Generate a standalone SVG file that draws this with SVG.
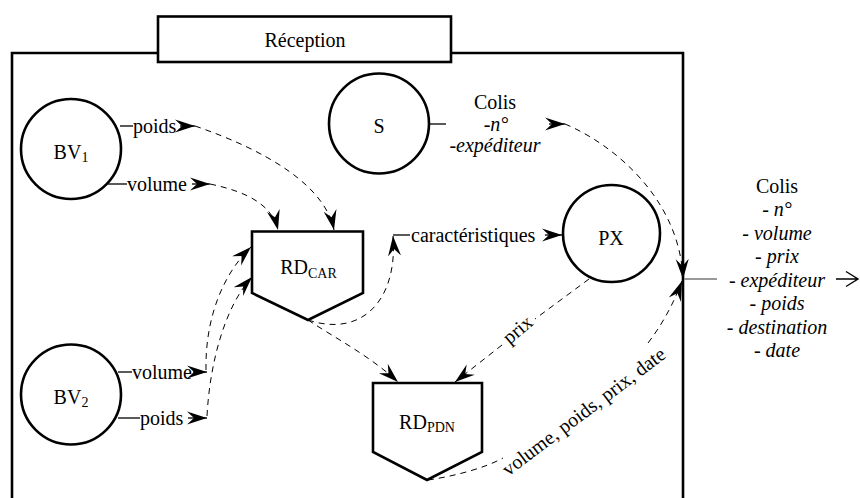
<svg xmlns="http://www.w3.org/2000/svg" width="860" height="498" viewBox="0 0 860 498" font-family="'Liberation Serif', 'Times New Roman', serif">
<style>
text{font-family:'Liberation Serif','Times New Roman',serif;font-size:20px;fill:#000}
.c{text-anchor:middle}
.i{font-style:italic}
.node{fill:#fff;stroke:#000;stroke-width:2.6}
.frame{fill:none;stroke:#000;stroke-width:2.6}
.dash{fill:none;stroke:#000;stroke-width:1;stroke-dasharray:6 5}
.ln{fill:none;stroke:#000;stroke-width:1.3}
.sub{font-size:14px}
</style>
<defs>
<marker id="ah" markerUnits="userSpaceOnUse" markerWidth="22" markerHeight="16" refX="20" refY="8" orient="auto" viewBox="0 0 22 16">
<path d="M20,8 L0,1.5 L7,8 L0,14.5 Z" fill="#000" stroke="none"/>
</marker>
</defs>

<g id="frame">
<path class="frame" d="M158,53 L12,53 L12,498 M451,53 L683,53 L683,498"/>
<rect class="frame" x="158" y="16.5" width="293" height="45.5" fill="#fff"/>
<text class="c" x="305" y="46.5">Réception</text>
</g>

<g id="BV1">
<circle class="node" cx="71" cy="149" r="50"/>
<text class="c" x="71" y="159">BV<tspan class="sub" dy="3">1</tspan></text>
</g>
<g id="S">
<circle class="node" cx="379" cy="123.5" r="50"/>
<text class="c" x="379" y="133">S</text>
</g>
<g id="PX">
<circle class="node" cx="611.5" cy="233.5" r="48.5"/>
<text class="c" x="611" y="245">PX</text>
</g>
<g id="BV2">
<circle class="node" cx="71" cy="394.5" r="50"/>
<text class="c" x="71" y="403.5">BV<tspan class="sub" dy="3">2</tspan></text>
</g>
<g id="RD_CAR">
<path class="node" stroke-width="3.2" d="M252,231.5 L363,231.5 L363,293 L308,320 L252,293 Z"/>
<text class="c" x="308.5" y="274">RD<tspan class="sub" dy="4">CAR</tspan></text>
</g>
<g id="RD_PDN">
<path class="node" stroke-width="3.2" d="M373,383 L482,383 L482,452 L427,480 L373,452 Z"/>
<text class="c" x="427" y="429">RD<tspan class="sub" dy="3">PDN</tspan></text>
</g>

<g id="connectors">
<path class="ln" d="M120,126 L133,126"/>
<text x="133" y="133">poids</text>
<path class="ln" d="M180,126 L195,126" marker-end="url(#ah)"/>
<path class="dash" d="M195,126 C265,150 325,185 334,230" marker-end="url(#ah)"/>
<path class="ln" d="M108,184 L127,184"/>
<text x="127" y="191">volume</text>
<path class="ln" d="M192,184 L210,184" marker-end="url(#ah)"/>
<path class="dash" d="M210,184 C248,192 272,205 278,230" marker-end="url(#ah)"/>
<path class="ln" d="M118,372 L132,372"/>
<text x="132" y="379">volume</text>
<path class="ln" d="M193,372 L207,372" marker-end="url(#ah)"/>
<path class="dash" d="M206,370 C205,320 222,275 251,247" marker-end="url(#ah)"/>
<path class="ln" d="M118,418 L140,418"/>
<text x="140" y="424.5">poids</text>
<path class="ln" d="M188,418 L207,418" marker-end="url(#ah)"/>
<path class="dash" d="M207,416 C210,360 226,305 252,277" marker-end="url(#ah)"/>
<path class="dash" d="M308,320 C362,338 398,300 393,236" marker-end="url(#ah)"/>
<path class="ln" d="M393,235 L410,235"/>
<text x="411" y="241.5">caractéristiques</text>
<path class="ln" d="M545,235 L562,235" marker-end="url(#ah)"/>
<path class="dash" d="M308,320 C335,338 370,356 398,382" marker-end="url(#ah)"/>
<path class="dash" d="M589,279 L535,319"/>
<text class="c" x="518" y="336" transform="rotate(-40 518 330)">prix</text>
<path class="dash" d="M502,345 L455,382" marker-end="url(#ah)"/>
<path class="dash" d="M428,480 C455,476 485,468 503,458"/>
<text class="c" x="584" y="418" transform="rotate(-37 584 412)">volume, poids, prix, date</text>
<path class="dash" d="M648,343 C664,322 674,302 682,281" marker-end="url(#ah)"/>
<path class="ln" d="M429,124 L446,124"/>
<text class="c" x="495" y="108.5">Colis</text>
<text class="c i" x="496" y="131">-n°</text>
<text class="c i" x="495" y="152">-expéditeur</text>
<path class="ln" d="M549,124 L565,124" marker-end="url(#ah)"/>
<path class="dash" d="M565,124 C615,145 680,200 683,279" marker-end="url(#ah)"/>
<path d="M684,279 L717,279" fill="none" stroke="#777" stroke-width="1.5"/>
<text class="c" x="777" y="192.5">Colis</text>
<text class="c i" x="777" y="216">- n°</text>
<text class="c i" x="777" y="239.5">- volume</text>
<text class="c i" x="777" y="263">- prix</text>
<text class="c i" x="777" y="286.5">- expéditeur</text>
<text class="c i" x="777" y="310">- poids</text>
<text class="c i" x="777" y="333.5">- destination</text>
<text class="c i" x="777" y="357">- date</text>
<path d="M836,279 L858,279 M846,271.5 L858,279 L846,286.5" fill="none" stroke="#000" stroke-width="1.4"/>
</g>
</svg>
